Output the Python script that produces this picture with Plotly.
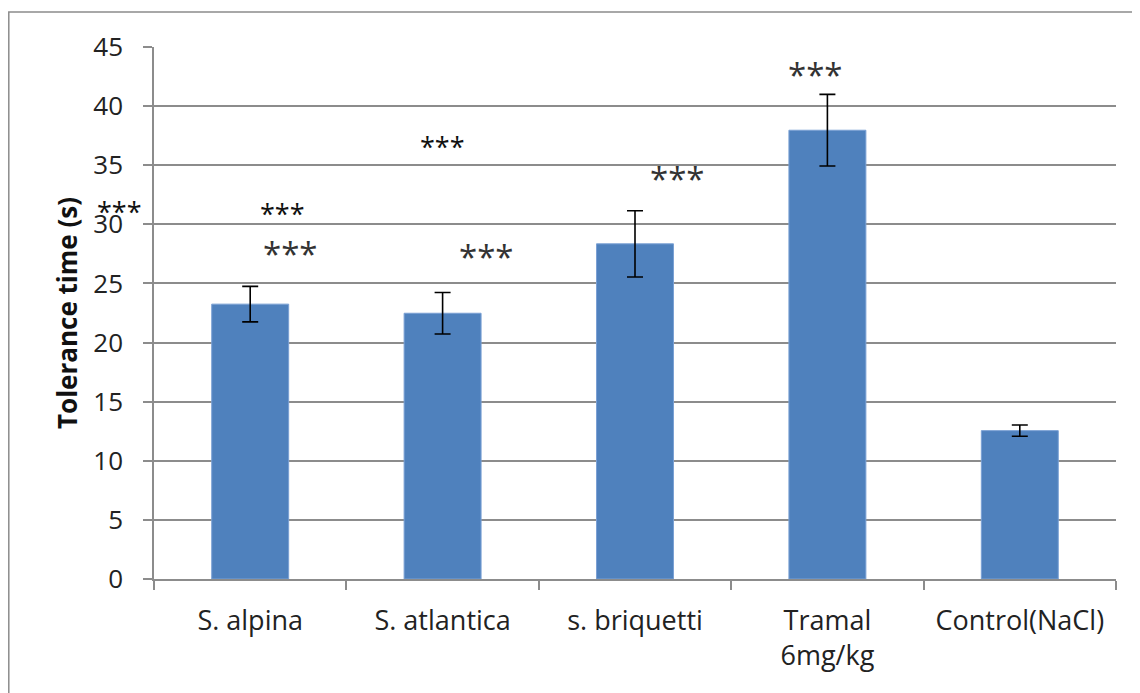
import plotly.graph_objects as go

categories = ["S. alpina", "S. atlantica", "s. briquetti", "Tramal<br>6mg/kg", "Control(NaCl)"]
means = [23.25, 22.48, 28.35, 37.96, 12.55]
errors = [1.5, 1.76, 2.8, 3.03, 0.48]

# significance marks: (x position in category units, y value, style)
star_x = [-0.68, 0.17, 0.21, 1.00, 1.23, 2.22, 2.94]
star_y = [31.1, 30.9, 27.5, 36.6, 27.3, 33.9, 42.7]
star_big = [False, False, True, False, True, True, True]

# page has an 8px body margin; figure sized/offset to compensate
OFF = 8
W, H = 1140 - OFF, 693 - OFF
L, T = 154 - OFF, 47 - OFF
R = W - (1116 - OFF)
B = H - (579 - OFF)
pw, ph = W - L - R, H - T - B

FONT = "Open Sans"
n = len(categories)

fig = go.Figure()
fig.add_trace(go.Bar(
    x=categories, y=means,
    width=0.4,
    marker=dict(color="#4F81BD", line=dict(color="#7aa0d4", width=1)),
    error_y=dict(type="data", array=errors, visible=True,
                 color="black", thickness=1.6, width=8),
))

for x, y, big in zip(star_x, star_y, star_big):
    inside = -0.5 <= x <= n - 0.5
    fig.add_annotation(
        x=x if inside else (x + 0.5) / n, y=y,
        xref="x" if inside else "paper", yref="y",
        text="***", showarrow=False,
        font=dict(family=FONT, size=33 if big else 27,
                  color="#333333" if big else "#111111"),
        xanchor="center", yanchor="middle",
    )

fig.add_annotation(
    x=(67 - OFF - L) / pw, y=0.5, xref="paper", yref="paper",
    text="<b>Tolerance time (s)</b>", textangle=-90, showarrow=False,
    font=dict(family=FONT, size=26, color="#111111"),
    xanchor="center", yanchor="middle",
)

# outer chart border (top and left edges)
fig.add_shape(type="rect", xref="paper", yref="paper",
              x0=(0.8 - L) / pw, x1=(W + 20 - L) / pw,
              y0=(-(B + 20)) / ph, y1=(H - B - (12 - OFF)) / ph,
              line=dict(color="#8c8c8c", width=1.5), fillcolor="rgba(0,0,0,0)",
              layer="below")

fig.update_layout(
    width=W, height=H,
    margin=dict(l=L, r=R, t=T, b=B, autoexpand=False),
    plot_bgcolor="white", paper_bgcolor="white",
    showlegend=False,
    font=dict(family=FONT, size=26, color="#222222"),
)
fig.update_xaxes(
    type="category", tickson="boundaries",
    range=[-0.5, n - 0.5],
    showline=True, linecolor="#8c8c8c", linewidth=1.5,
    ticks="outside", ticklen=9, tickcolor="#8c8c8c", tickwidth=1.5,
    showgrid=False, zeroline=False, ticklabelstandoff=17,
    tickfont=dict(family=FONT, size=27, color="#222222"),
)
fig.update_yaxes(
    range=[0, 45], dtick=5, tick0=0,
    showline=True, linecolor="#8c8c8c", linewidth=1.5,
    ticks="outside", ticklen=9, tickcolor="#8c8c8c", tickwidth=1.5,
    showgrid=True, gridcolor="#8c8c8c", gridwidth=1.5,
    zeroline=False, ticklabelstandoff=15,
    tickfont=dict(family=FONT, size=26, color="#222222"),
)

fig.write_html("out.html")
